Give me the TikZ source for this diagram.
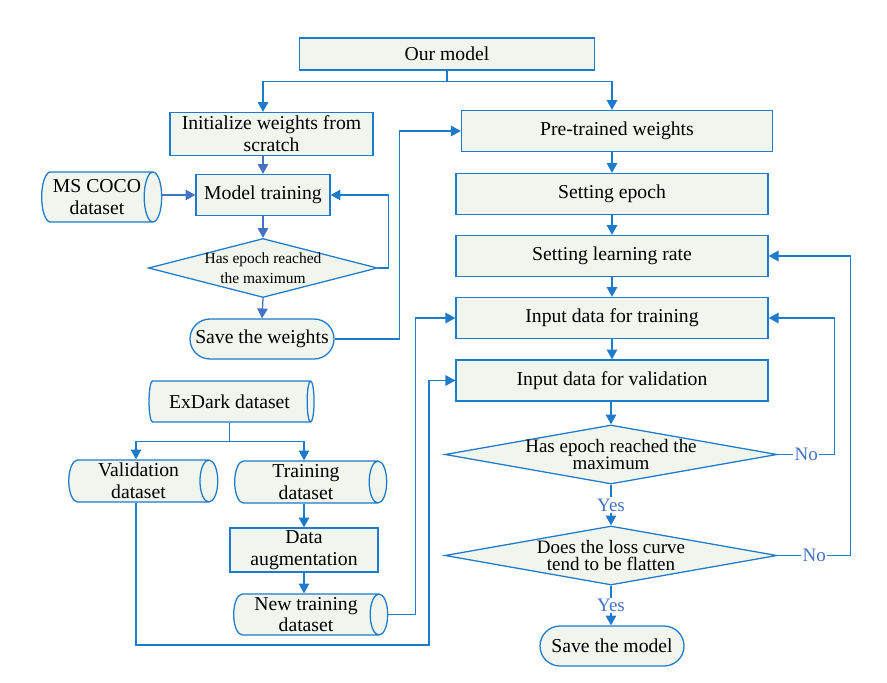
\documentclass[tikz,border=0pt]{standalone}
\usepackage{fontspec}
\setmainfont{Liberation Serif}
\usetikzlibrary{shapes.geometric,shapes.misc,arrows.meta}
\definecolor{lineblue}{RGB}{30,122,202}
\definecolor{arrblue}{RGB}{68,114,196}
\definecolor{boxfill}{RGB}{240,245,237}

\begin{document}
\begin{tikzpicture}[x=0.025cm,y=-0.025cm,
	box/.style={shape=rectangle,draw=lineblue,fill=boxfill,line width=0.9pt,inner sep=0pt,align=center,font=\fontsize{14}{15.5}\selectfont},
	pill/.style={box,rounded corners=0.5cm},
	data/.style={box,shape=cylinder,aspect=0.5},
	decision/.style={shape=diamond,draw=lineblue,fill=boxfill,line width=0.9pt,inner sep=0pt},
	dtext/.style={align=center,inner sep=0pt},
	arr/.style={-{Triangle[length=7pt,width=7.5pt]},draw=lineblue,line width=0.9pt},
	arrl/.style={arr,draw=arrblue,-{Triangle[length=7pt,width=7.5pt,fill=arrblue]}},
	yn/.style={fill=white,text=arrblue,inner sep=1pt,font=\fontsize{13.5}{14}\selectfont}]
		\useasboundingbox (0,0) rectangle (887,683);
		
		\node[box, minimum width=7.375cm, minimum height=0.8cm] (om) at (447,54) {Our model};
		
		\node[box, minimum width=5.075cm, minimum height=1.075cm] (init) at (271.5,134) {Initialize weights from\\scratch};
		\node[box, minimum width=3.35cm, minimum height=1.025cm] (mt) at (263,195) {Model training};
		\node[data, minimum height=3cm, minimum width=1.25cm] (coco) at (97,197) {MS COCO\\dataset};
		\node[decision, minimum width=5.725cm, minimum height=1.475cm] (d0) at (263,268) {};
		\node[dtext, font=\fontsize{11}{14}\selectfont] (d0t) at (d0) {Has epoch reached\\the maximum};
		\node[pill, minimum width=3.6cm, minimum height=1cm] (sw) at (262,339) {Save the weights};
		
		\node[box, minimum width=7.775cm, minimum height=1.025cm] (pre) at (617,131) {Pre-trained weights};
		\node[box, minimum width=7.8cm, minimum height=1.025cm] (se) at (612,194) {Setting epoch};
		\node[box, minimum width=7.8cm, minimum height=1.025cm] (lr) at (612,256) {Setting learning rate};
		\node[box, minimum width=7.8cm, minimum height=1.025cm] (it) at (612,318) {Input data for training};
		\node[box, minimum width=7.8cm, minimum height=1.025cm] (iv) at (612,380.5) {Input data for validation};
		\node[decision, minimum width=8.3cm, minimum height=1.475cm] (d1) at (611,454.5) {};
		\node[dtext, font=\fontsize{13.5}{12.5}\selectfont] (d1t) at (d1) {Has epoch reached the\\maximum};
		\node[decision, minimum width=8.3cm, minimum height=1.475cm] (d2) at (611,555.5) {};
		\node[dtext, font=\fontsize{13.5}{12.5}\selectfont] (d2t) at (d2) {Does the loss curve\\tend to be flatten};
		\node[pill, minimum width=3.6cm, minimum height=1cm] (sm) at (612,646) {Save the model};
		
		\node[data, minimum height=4.125cm, minimum width=1.025cm] (ex) at (229.5,401.5) {ExDark dataset};
		\node[data, minimum height=3.725cm, minimum width=1.05cm] (val) at (138.5,481) {Validation\\dataset};
		\node[data, minimum height=3.8cm, minimum width=1.05cm] (tr) at (306,482) {Training\\dataset};
		\node[box, minimum width=3.7cm, minimum height=1.1cm] (da) at (304,550) {Data\\augmentation};
		\node[data, minimum height=3.85cm, minimum width=1.025cm] (nt) at (306,614.5) {New training\\dataset};
		
		% our model splits in two
		\draw[lineblue, line width=0.9pt] (om.south) -- ++(0,11) coordinate (fork);
		\draw[arr] (fork) -| (init.north -| mt.north);
		\draw[arr] (fork) -| (pre.north -| se.north);
		
		% training from scratch
		\draw[arrl] (init.south -| mt.north) -- (mt.north);
		\draw[arrl] (coco.east |- mt.west) -- (mt.west);
		\draw[arrl] (mt.south) -- (d0.north);
		\draw[arrl] (d0.south) -- (sw.north);
		\draw[arr] (d0.east) -- ++(10,0) |- (mt.east);
		\draw[arr] (sw.east) -- ++(65,0) |- (pre.west);
		
		% fine tuning
		\draw[arr] (pre.south -| se.north) -- (se.north);
		\draw[arr] (se) -- (lr);
		\draw[arr] (lr) -- (it);
		\draw[arr] (it) -- (iv);
		\draw[arr] (iv.south -| d1.north) -- (d1.north);
		\draw[arr] (d1.south) -- node[yn] {Yes} (d2.north);
		\draw[arr] (d2.south) -- node[yn] {Yes} (sm.north -| d2.south);
		\draw[arr] (d1.east) -- node[yn] {No} ++(57,0) |- (it.east);
		\draw[arr] (d2.east) -- node[yn] {No} ++(73,0) |- (lr.east);
		
		% ExDark data
		\draw[lineblue, line width=0.9pt] (ex.south) -- ++(0,19) coordinate (split);
		\draw[arr] (split) -| (val.north -| 136,0);
		\draw[arr] (split) -| (tr.north -| da.north);
		\draw[arr] (tr.south -| da.north) -- (da.north);
		\draw[arr] (da.south) -- (nt.north -| da.south);
		\draw[arr] (nt.east) -- ++(27,0) |- (it.west);
		\draw[arr] (val.south -| 136,0) |- (429,645) |- (iv.west);
		
\end{tikzpicture}
\end{document}
